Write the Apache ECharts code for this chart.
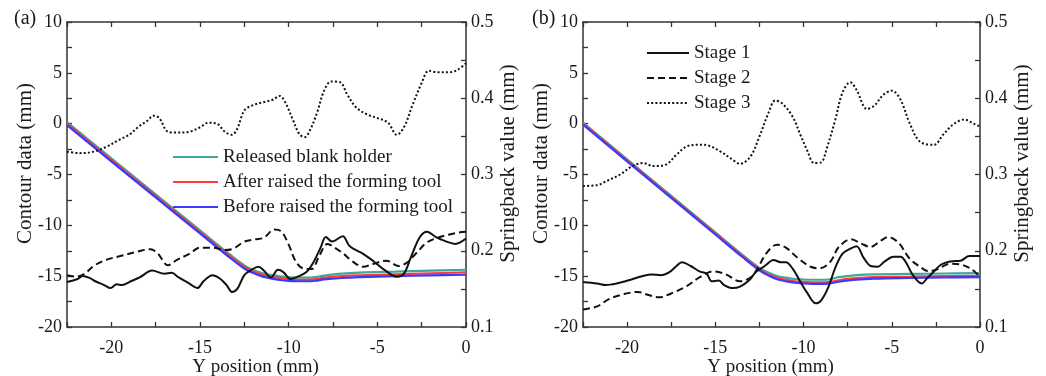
<!DOCTYPE html>
<html>
<head>
<meta charset="utf-8">
<script src="https://cdn.jsdelivr.net/npm/echarts@6/dist/echarts.min.js"></script>
<style>
html,body{margin:0;padding:0;background:#fff;}
#chart{width:1046px;height:376px;}
</style>
</head>
<body>
<div id="chart"></div>
<script>
// ---------- DATA ----------
const contourX = [-22.5, -20, -17.5, -15, -13.5, -12.5, -12, -11.5, -11, -10.5, -10, -9.5, -9, -8.5, -8, -7, -6, -4, -2, 0];
// panel (a)
const releasedA = [0.15, -3.4, -6.95, -10.5, -12.62, -13.95, -14.4, -14.7, -14.88, -15.02, -15.1, -15.15, -15.15, -15.1, -14.95, -14.75, -14.65, -14.55, -14.45, -14.37];
const afterA    = [0, -3.55, -7.1, -10.65, -12.78, -14.1, -14.55, -14.85, -15.05, -15.2, -15.3, -15.35, -15.35, -15.3, -15.15, -15.0, -14.92, -14.82, -14.72, -14.62];
const beforeA   = [-0.15, -3.7, -7.25, -10.8, -12.93, -14.25, -14.7, -15.02, -15.22, -15.38, -15.47, -15.5, -15.5, -15.45, -15.32, -15.18, -15.1, -15.0, -14.92, -14.86];
// panel (b)
const releasedB = [0.1, -3.5, -7.1, -10.7, -12.85, -14.18, -14.65, -14.98, -15.15, -15.28, -15.33, -15.35, -15.35, -15.3, -15.1, -14.9, -14.82, -14.78, -14.74, -14.7];
const afterB    = [0, -3.6, -7.2, -10.8, -12.96, -14.3, -14.8, -15.15, -15.35, -15.5, -15.55, -15.6, -15.6, -15.55, -15.4, -15.2, -15.1, -15.05, -15.0, -14.96];
const beforeB   = [-0.1, -3.7, -7.3, -10.9, -13.06, -14.42, -14.92, -15.3, -15.5, -15.65, -15.72, -15.75, -15.75, -15.7, -15.55, -15.35, -15.25, -15.18, -15.13, -15.1];

// springback (x, value) pairs, panel (a)
const stage1A = [[-22.5,0.159],[-21.9,0.163],[-21.6,0.167],[-21.2,0.164],[-20.9,0.160],[-20.4,0.155],[-20.05,0.151],[-19.7,0.156],[-19.4,0.155],[-18.9,0.160],[-18.4,0.165],[-17.7,0.174],[-17.0,0.170],[-16.6,0.171],[-16.2,0.165],[-15.6,0.157],[-15.15,0.151],[-14.8,0.160],[-14.3,0.168],[-13.9,0.164],[-13.5,0.155],[-13.2,0.146],[-12.9,0.150],[-12.5,0.168],[-12.1,0.175],[-11.7,0.179],[-11.4,0.174],[-11.0,0.165],[-10.6,0.175],[-10.3,0.172],[-9.9,0.163],[-9.5,0.166],[-9.0,0.172],[-8.6,0.185],[-8.2,0.204],[-7.9,0.218],[-7.55,0.212],[-6.95,0.219],[-6.6,0.207],[-6.3,0.202],[-5.8,0.196],[-5.2,0.186],[-4.6,0.175],[-3.9,0.166],[-3.5,0.170],[-3.1,0.192],[-2.6,0.218],[-2.2,0.225],[-1.7,0.218],[-1.2,0.213],[-0.6,0.209],[0,0.216]];
const stage2A = [[-22.5,0.168],[-22.0,0.166],[-21.5,0.170],[-21.0,0.180],[-20.3,0.188],[-19.5,0.193],[-18.5,0.199],[-17.8,0.202],[-17.4,0.197],[-16.8,0.181],[-16.3,0.188],[-15.6,0.196],[-15.0,0.204],[-14.3,0.204],[-13.6,0.201],[-13.1,0.203],[-12.5,0.212],[-11.9,0.215],[-11.4,0.217],[-10.8,0.228],[-10.4,0.225],[-10.0,0.208],[-9.6,0.186],[-9.2,0.177],[-8.7,0.176],[-8.3,0.192],[-7.8,0.209],[-7.4,0.204],[-6.9,0.196],[-6.4,0.186],[-5.8,0.179],[-5.2,0.183],[-4.5,0.187],[-3.8,0.180],[-3.3,0.185],[-2.8,0.197],[-2.2,0.211],[-1.6,0.217],[-1.0,0.221],[-0.4,0.224],[0,0.225]];
const stage3A = [[-22.5,0.330],[-21.8,0.328],[-21.0,0.330],[-20.3,0.336],[-19.6,0.345],[-19.0,0.352],[-18.5,0.362],[-18.0,0.370],[-17.6,0.377],[-17.3,0.374],[-16.8,0.356],[-16.3,0.355],[-15.6,0.356],[-15.0,0.362],[-14.5,0.368],[-14.0,0.366],[-13.6,0.356],[-13.2,0.352],[-12.9,0.360],[-12.5,0.384],[-12.0,0.391],[-11.4,0.395],[-10.9,0.398],[-10.5,0.403],[-10.2,0.395],[-9.8,0.374],[-9.4,0.353],[-9.1,0.349],[-8.8,0.358],[-8.4,0.381],[-8.0,0.410],[-7.6,0.422],[-7.1,0.421],[-6.7,0.405],[-6.2,0.388],[-5.6,0.379],[-5.0,0.374],[-4.4,0.368],[-3.9,0.352],[-3.5,0.362],[-3.0,0.392],[-2.5,0.420],[-2.1,0.436],[-1.6,0.434],[-1.0,0.434],[-0.5,0.437],[0,0.446]];

// springback, panel (b)
const stage1B = [[-22.5,0.159],[-21.7,0.157],[-21.2,0.155],[-20.6,0.157],[-19.8,0.162],[-19.1,0.167],[-18.6,0.169],[-18.1,0.168],[-17.6,0.172],[-17.2,0.180],[-16.9,0.185],[-16.4,0.180],[-15.9,0.173],[-15.5,0.170],[-15.2,0.160],[-14.8,0.161],[-14.5,0.155],[-14.0,0.151],[-13.6,0.153],[-13.1,0.161],[-12.7,0.172],[-12.2,0.180],[-11.7,0.188],[-11.3,0.185],[-11.0,0.185],[-10.6,0.176],[-10.2,0.160],[-9.8,0.145],[-9.3,0.131],[-9.0,0.135],[-8.6,0.152],[-8.2,0.178],[-7.8,0.196],[-7.4,0.202],[-7.0,0.206],[-6.6,0.191],[-6.2,0.180],[-5.8,0.179],[-5.4,0.186],[-4.9,0.192],[-4.5,0.192],[-4.2,0.185],[-3.8,0.168],[-3.3,0.157],[-3.0,0.164],[-2.6,0.173],[-2.2,0.182],[-1.7,0.186],[-1.1,0.187],[-0.6,0.193],[0,0.193]];
const stage2B = [[-22.5,0.123],[-21.7,0.127],[-21.0,0.137],[-20.2,0.143],[-19.4,0.146],[-18.8,0.142],[-18.2,0.139],[-17.5,0.144],[-16.6,0.154],[-15.9,0.165],[-15.1,0.173],[-14.4,0.169],[-13.6,0.160],[-13.0,0.165],[-12.6,0.177],[-12.1,0.197],[-11.5,0.208],[-11.0,0.204],[-10.3,0.190],[-9.6,0.179],[-9.1,0.177],[-8.5,0.185],[-8.0,0.205],[-7.3,0.215],[-6.7,0.209],[-6.2,0.205],[-5.7,0.212],[-5.2,0.218],[-4.6,0.210],[-4.0,0.190],[-3.4,0.179],[-2.9,0.173],[-2.4,0.176],[-1.7,0.183],[-1.1,0.182],[-0.5,0.176],[0,0.166]];
const stage3B = [[-22.5,0.285],[-21.7,0.286],[-21.2,0.291],[-20.4,0.300],[-19.7,0.311],[-19.1,0.315],[-18.5,0.311],[-17.8,0.313],[-17.2,0.326],[-16.6,0.337],[-15.9,0.339],[-15.4,0.338],[-14.7,0.330],[-14.0,0.319],[-13.6,0.314],[-13.0,0.324],[-12.5,0.350],[-12.0,0.380],[-11.6,0.397],[-11.2,0.393],[-10.6,0.375],[-10.2,0.353],[-9.8,0.332],[-9.4,0.315],[-9.0,0.316],[-8.7,0.333],[-8.2,0.372],[-7.8,0.407],[-7.35,0.421],[-7.0,0.411],[-6.4,0.386],[-6.0,0.390],[-5.5,0.404],[-5.0,0.410],[-4.5,0.398],[-4.0,0.368],[-3.4,0.343],[-2.6,0.339],[-2.1,0.352],[-1.5,0.366],[-0.9,0.372],[-0.3,0.366],[0,0.363]];

const contourNames = ['Released blank holder', 'After raised the forming tool', 'Before raised the forming tool'];
const stageNames = ['Stage 1', 'Stage 2', 'Stage 3'];
const panelLabels = ['(a)', '(b)'];
const xName = 'Y position (mm)';
const yLeftName = 'Contour data (mm)';
const yRightName = 'Springback value (mm)';

// ---------- CHART ----------
const FONT = 'Liberation Serif';
const TXT = '#1a1a1a';
const AX = '#333';
const contourColors = ['#3aaa9a', '#ff3a3a', '#3a3aff'];
const stageTypes = ['solid', [7, 4], [2, 2.2]];

const pairs = (xs, ys) => xs.map((x, i) => [x, ys[i]]);
const tickStyle = () => ({ show: true, inside: true, length: 5, lineStyle: { color: AX, width: 1.3 } });
const lineStyleAx = () => ({ show: true, onZero: false, lineStyle: { color: AX, width: 1.5 } });

function xAxes(gridIndex) {
  const bottom = {
    type: 'value', gridIndex, position: 'bottom', min: -22.5, max: 0, interval: 2.5,
    name: xName, nameLocation: 'middle', nameGap: 31, nameMoveOverlap: false,
    nameTextStyle: { fontFamily: FONT, fontSize: 19, color: TXT, padding: [0, 22, 0, 0] },
    axisLine: lineStyleAx(), axisTick: tickStyle(),
    axisLabel: { fontFamily: FONT, fontSize: 18, color: TXT, margin: 12,
      formatter: v => (Math.abs(v / 5 - Math.round(v / 5)) < 1e-6 ? String(Math.round(v)) : '') },
    splitLine: { show: false }
  };
  const top = {
    type: 'value', gridIndex, position: 'top', min: -22.5, max: 0, interval: 2.5,
    axisLine: lineStyleAx(), axisTick: tickStyle(),
    axisLabel: { show: false }, splitLine: { show: false }
  };
  return [bottom, top];
}

function yAxes(gridIndex) {
  const left = {
    type: 'value', gridIndex, position: 'left', min: -20, max: 10, interval: 2.5,
    name: yLeftName, nameLocation: 'middle', nameGap: 31, nameMoveOverlap: false,
    nameTextStyle: { fontFamily: FONT, fontSize: 21, color: TXT, padding: [0, 0, 0, 22] },
    axisLine: lineStyleAx(), axisTick: tickStyle(),
    axisLabel: { fontFamily: FONT, fontSize: 18, color: TXT, margin: 5,
      formatter: v => (Math.abs(v / 5 - Math.round(v / 5)) < 1e-6 ? String(Math.round(v)) : '') },
    splitLine: { show: false }
  };
  const right = {
    type: 'value', gridIndex, position: 'right', min: 0.1, max: 0.5, interval: 0.05,
    name: yRightName, nameLocation: 'middle', nameGap: 32, nameMoveOverlap: false,
    nameTextStyle: { fontFamily: FONT, fontSize: 21, color: TXT, padding: [0, 0, 0, 22] },
    axisLine: lineStyleAx(), axisTick: tickStyle(),
    axisLabel: { fontFamily: FONT, fontSize: 18, color: TXT, margin: 5,
      formatter: v => { const t = v * 10; return Math.abs(t - Math.round(t)) < 1e-6 ? (Math.round(t) / 10).toFixed(1) : ''; } },
    splitLine: { show: false }
  };
  return [left, right];
}

const series = [];
function addContours(xi, yi, sets) {
  sets.forEach((ys, k) => {
    series.push({
      type: 'line', name: contourNames[k], xAxisIndex: xi, yAxisIndex: yi,
      data: pairs(contourX, ys), smooth: 0.4, symbol: 'none',
      lineStyle: { color: contourColors[k], width: 2.2 }, itemStyle: { color: contourColors[k] },
      z: 3 + k
    });
  });
}
function addStages(xi, yi, sets) {
  sets.forEach((d, k) => {
    series.push({
      type: 'line', name: stageNames[k], xAxisIndex: xi, yAxisIndex: yi,
      data: d, smooth: 0.35, symbol: 'none',
      lineStyle: { color: '#111', width: 2, type: stageTypes[k] }, itemStyle: { color: '#111' },
      z: 6
    });
  });
}
addStages(0, 1, [stage1A, stage2A, stage3A]);
addContours(0, 0, [releasedA, afterA, beforeA]);
addStages(2, 3, [stage1B, stage2B, stage3B]);
addContours(2, 2, [releasedB, afterB, beforeB]);

const legendText = { fontFamily: FONT, fontSize: 19, color: TXT, lineHeight: 20 };
const legendBase = { orient: 'vertical', padding: 0, itemHeight: 14, itemGap: 5,
  textStyle: legendText, selectedMode: false, itemStyle: { opacity: 0 } };
const option = {
  animation: false,
  backgroundColor: '#fff',
  grid: [
    { left: 67, right: 580, top: 22, bottom: 49, containLabel: false, outerBoundsMode: 'none' },
    { left: 583, right: 66, top: 22, bottom: 49, containLabel: false, outerBoundsMode: 'none' }
  ],
  xAxis: [...xAxes(0), ...xAxes(1)],
  yAxis: [...yAxes(0), ...yAxes(1)],
  legend: [
    Object.assign({}, legendBase, { left: 172, top: 147, itemWidth: 45, data: contourNames }),
    Object.assign({}, legendBase, { left: 646, top: 43, itemWidth: 42, data: stageNames })
  ],
  graphic: [
    { type: 'text', left: 14, top: 9, style: { text: panelLabels[0], font: '20px "Liberation Serif"', fill: TXT } },
    { type: 'text', left: 532, top: 9, style: { text: panelLabels[1], font: '20px "Liberation Serif"', fill: TXT } }
  ],
  series
};

const chart = echarts.init(document.getElementById('chart'), null, { renderer: 'canvas' });
chart.setOption(option);
</script>
</body>
</html>
